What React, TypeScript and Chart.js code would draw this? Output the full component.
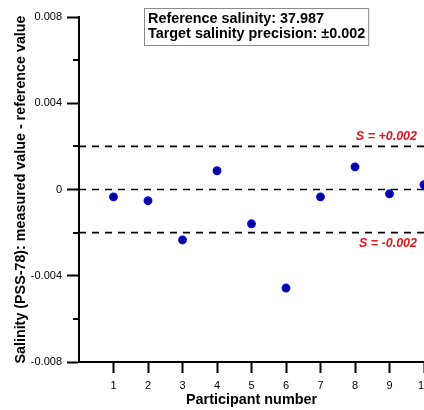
import React, { useEffect, useRef } from "react";
import { Chart, registerables } from "chart.js";

Chart.register(...registerables);

// ---- data ----
const participants = [1, 2, 3, 4, 5, 6, 7, 8, 9, 10];
const deviations = [-0.00034, -0.00052, -0.00234, 0.00087, -0.00159, -0.00457, -0.00034, 0.00105, -0.0002, 0.00022];
const referenceLines = [0.002, 0, -0.002];
const limitLabels = ["S = +0.002", "S = -0.002"];
const limitValues = [0.002, -0.002];
const infoLines = ["Reference salinity: 37.987", "Target salinity precision: \u00b10.002"];
const yTickValues = [0.008, 0.004, 0, -0.004, -0.008];
const xRange = [0, 10];
const yRange = [-0.008, 0.008];

const FONT = "'Liberation Sans', Arial, Helvetica, sans-serif";

export default function App() {
  const ref = useRef<HTMLCanvasElement | null>(null);

  useEffect(() => {
    const canvas = ref.current;
    if (!canvas) return;

    const annotations = {
      id: "annotations",
      afterDraw(chart: any) {
        const { ctx, scales } = chart;
        const ys = scales.y;
        ctx.save();
        // minor ticks on y axis
        ctx.strokeStyle = "#000";
        ctx.lineWidth = 2;
        const axisX = chart.chartArea.left;
        for (let v = -6; v <= 6; v += 4) {
          const py = Math.round(ys.getPixelForValue(v / 1000));
          ctx.beginPath();
          ctx.moveTo(axisX - 6, py);
          ctx.lineTo(axisX, py);
          ctx.stroke();
        }
        // limit labels
        ctx.fillStyle = "#e3141c";
        ctx.font = `italic bold 12.5px ${FONT}`;
        ctx.textAlign = "right";
        ctx.textBaseline = "middle";
        limitLabels.forEach((t, i) => {
          const py = ys.getPixelForValue(limitValues[i]);
          ctx.fillText(t, 417, py + (limitValues[i] > 0 ? -10 : 11));
        });
        // info box
        ctx.font = `bold 14.4px ${FONT}`;
        ctx.textAlign = "left";
        const w = Math.max(...infoLines.map((l) => ctx.measureText(l).width));
        ctx.fillStyle = "#fff";
        ctx.fillRect(144.5, 8.5, w + 7, 37);
        ctx.strokeStyle = "#8a8a8a";
        ctx.lineWidth = 1;
        ctx.strokeRect(144.5, 8.5, w + 7, 37);
        ctx.fillStyle = "#000";
        infoLines.forEach((l, i) => {
          ctx.fillText(l, 148, 19 + i * 15);
        });
        ctx.restore();
      },
    };

    const chart = new Chart(canvas, {
      type: "scatter",
      data: {
        datasets: [
          {
            type: "scatter",
            data: participants.map((p, i) => ({ x: p, y: deviations[i] })),
            backgroundColor: "#00008c",
            borderColor: "#0a0ae6",
            borderWidth: 1.5,
            pointRadius: 3.7,
            order: 0,
            clip: false as any,
          },
          ...referenceLines.map((v) => ({
            type: "line" as const,
            data: [
              { x: xRange[0], y: v },
              { x: xRange[1], y: v },
            ],
            borderColor: "#000",
            borderWidth: 1.6,
            borderDash: [7, 6],
            pointRadius: 0,
            fill: false,
            order: 1,
          })),
        ] as any,
      },
      options: {
        animation: false,
        responsive: false,
        maintainAspectRatio: false,
        layout: { autoPadding: false, padding: { top: 17, right: 0, bottom: 0, left: 0 } },
        plugins: { legend: { display: false }, tooltip: { enabled: false }, title: { display: false } },
        scales: {
          x: {
            type: "linear",
            min: xRange[0],
            max: xRange[1],
            afterFit: (s: any) => {
              s.height = 48;
              s.paddingLeft = 0;
              s.paddingRight = 0;
            },
            ticks: {
              stepSize: 1,
              autoSkip: false,
              maxRotation: 0,
              padding: 6,
              color: "#000",
              font: { family: FONT, size: 11 },
              callback: (v: any) => (v === 0 ? "" : String(v)),
            },
            grid: {
              drawOnChartArea: false,
              drawTicks: true,
              tickLength: 11,
              tickWidth: 2,
              tickColor: (c: any) => (c.tick && c.tick.value === 0 ? "rgba(0,0,0,0)" : "#000"),
            },
            border: { display: true, color: "#000", width: 2 },
            title: {
              display: true,
              text: "Participant number",
              color: "#000",
              font: { family: FONT, size: 14.4, weight: "bold" },
              padding: { top: 0, bottom: 1 },
            },
          },
          y: {
            type: "linear",
            min: yRange[0],
            max: yRange[1],
            afterBuildTicks: (s: any) => {
              s.ticks = yTickValues.map((v) => ({ value: v }));
            },
            afterFit: (s: any) => {
              s.width = 79;
              s.paddingTop = 0;
              s.paddingBottom = 0;
            },
            ticks: {
              autoSkip: false,
              padding: 5,
              color: "#000",
              font: { family: FONT, size: 11 },
              callback: (v: any) => {
                const r = Math.round(Number(v) * 1000);
                return r === 0 ? "0" : (r / 1000).toFixed(3);
              },
            },
            grid: {
              drawOnChartArea: false,
              drawTicks: true,
              tickLength: 12,
              tickWidth: 2,
              tickColor: "#000",
            },
            border: { display: true, color: "#000", width: 2 },
            title: {
              display: true,
              text: "Salinity (PSS-78): measured value - reference value",
              color: "#000",
              font: { family: FONT, size: 14.3, weight: "bold" },
              padding: { top: 12, bottom: 0 },
            },
          },
        },
      },
      plugins: [annotations],
    } as any);

    return () => chart.destroy();
  }, []);

  return (
    <div style={{ position: "absolute", left: 0, top: 0, width: 424, height: 410, overflow: "hidden", background: "#fff" }}>
      <canvas ref={ref} width={424} height={410} style={{ display: "block" }} />
    </div>
  );
}
